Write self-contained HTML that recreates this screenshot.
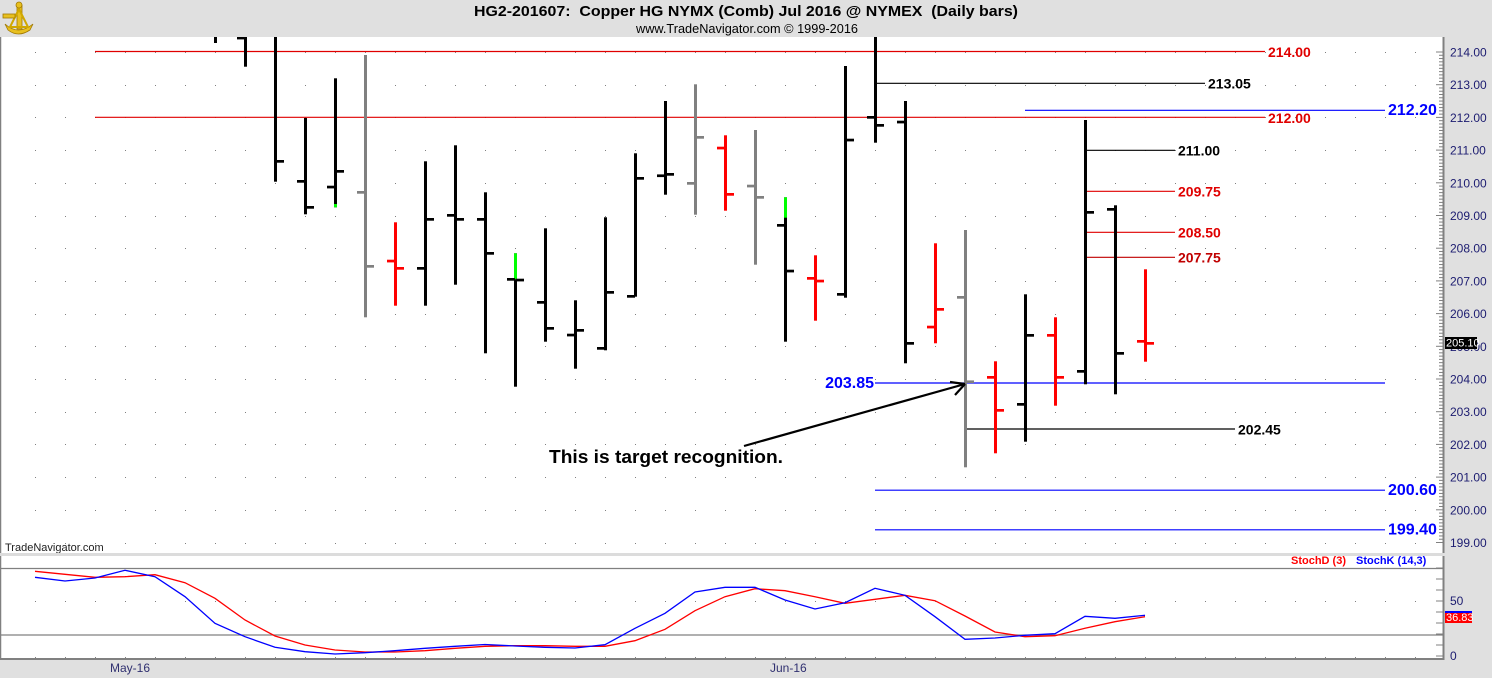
<!DOCTYPE html>
<html><head><meta charset="utf-8"><style>
html,body{margin:0;padding:0;background:#fff;}
svg{display:block;font-family:"Liberation Sans",Arial,sans-serif;}
</style></head><body>
<svg width="1492" height="678" viewBox="0 0 1492 678" xmlns="http://www.w3.org/2000/svg">
<!-- backgrounds -->
<rect x="0" y="0" width="1492" height="678" fill="#e0e0e0"/>
<rect x="0" y="37" width="1443" height="516" fill="#fff"/>
<rect x="0" y="556" width="1443" height="103" fill="#fff"/>
<line x1="0.5" y1="37" x2="0.5" y2="660" stroke="#808080" stroke-width="1.5"/>

<!-- dot grid main -->
<g id="dots" fill="#808080"></g>

<!-- horizontal level lines -->
<g stroke-width="1.2">
<line x1="95" y1="51.5" x2="1265" y2="51.5" stroke="#e00000"/>
<line x1="95" y1="117.3" x2="1265" y2="117.3" stroke="#e00000"/>
<line x1="877" y1="83.3" x2="1205" y2="83.3" stroke="#000"/>
<line x1="1025" y1="110.3" x2="1385" y2="110.3" stroke="#0000ff"/>
<line x1="1085" y1="150.3" x2="1175" y2="150.3" stroke="#000"/>
<line x1="1085" y1="191.3" x2="1175" y2="191.3" stroke="#e00000"/>
<line x1="1085" y1="232.3" x2="1175" y2="232.3" stroke="#e00000"/>
<line x1="1085" y1="257.3" x2="1175" y2="257.3" stroke="#c00000"/>
<line x1="875" y1="383" x2="1385" y2="383" stroke="#0000ff"/>
<line x1="965" y1="429" x2="1235" y2="429" stroke="#000"/>
<line x1="875" y1="490.2" x2="1385" y2="490.2" stroke="#0000ff"/>
<line x1="875" y1="529.8" x2="1385" y2="529.8" stroke="#0000ff"/>
</g>

<!-- bars -->
<g id="bars"></g>

<!-- level labels -->
<g font-weight="bold" font-size="14" dominant-baseline="central">
<text x="1268" y="52" fill="#e00000">214.00</text>
<text x="1268" y="118" fill="#e00000">212.00</text>
<text x="1208" y="83.5" fill="#000">213.05</text>
<text x="1178" y="150.5" fill="#000">211.00</text>
<text x="1178" y="191.5" fill="#e00000">209.75</text>
<text x="1178" y="232.5" fill="#e00000">208.50</text>
<text x="1178" y="257.5" fill="#c00000">207.75</text>
<text x="1238" y="429.5" fill="#000">202.45</text>
</g>
<g font-weight="bold" font-size="16" fill="#0000ff" dominant-baseline="central">
<text x="1388" y="110.5">212.20</text>
<text x="874" y="383.5" text-anchor="end">203.85</text>
<text x="1388" y="490.5">200.60</text>
<text x="1388" y="530">199.40</text>
</g>

<!-- annotation -->
<g stroke="#000" stroke-width="2.2" fill="none">
<line x1="744" y1="446" x2="965" y2="384"/>
<line x1="965" y1="384" x2="950" y2="382"/>
<line x1="965" y1="384" x2="955" y2="395"/>
</g>
<text x="549" y="463" font-weight="bold" font-size="18" fill="#000" textLength="234" lengthAdjust="spacingAndGlyphs">This is target recognition.</text>

<text x="5" y="551" font-size="11" fill="#202020">TradeNavigator.com</text>

<!-- pane gap -->
<rect x="0" y="553" width="1443" height="3" fill="#dcdcdc"/>

<!-- stoch pane -->
<line x1="0" y1="568.5" x2="1443" y2="568.5" stroke="#808080" stroke-width="1.3"/>
<line x1="0" y1="635" x2="1443" y2="635" stroke="#808080" stroke-width="1.3"/>
<line x1="0" y1="659" x2="1445" y2="659" stroke="#808080" stroke-width="2"/>
<g font-weight="bold" font-size="11" dominant-baseline="central">
<text x="1291" y="561" fill="#ff0000">StochD (3)</text>
<text x="1356" y="561" fill="#0000ff">StochK (14,3)</text>
</g>
<polyline fill="none" stroke="#ff0000" stroke-width="1.3" points="35,571.3 65,574.3 95,577.3 125,576.7 155,574.7 185,582.7 215,598.3 245,620 275,636 305,645 335,650 365,652 395,652 425,650.7 455,648.3 485,646.3 515,645.7 545,645.7 575,646.3 605,646.3 635,640.7 665,629.3 695,610.7 725,596.7 755,588.7 785,590.7 815,596.7 845,603.3 875,599.3 905,595.3 935,600.7 965,616 995,632 1025,636.7 1055,635.7 1085,628.3 1115,621.7 1145,616.7"/>
<polyline fill="none" stroke="#0000ff" stroke-width="1.3" points="35,577.3 65,581 95,578 125,570.3 155,576.7 185,596.7 215,623.3 245,636.7 275,647.3 305,651.7 335,654 365,652.7 395,650.7 425,648.3 455,646.3 485,644.5 515,646 545,647.3 575,648 605,644.7 635,628.3 665,613.3 695,592 725,587.3 755,587.3 785,600 815,609 845,602.7 875,588.3 905,595.3 935,616.7 965,639.3 995,638 1025,635.3 1055,633.7 1085,616.3 1115,618.3 1145,615.3"/>

<!-- header -->
<rect x="0" y="0" width="1492" height="37" fill="#e0e0e0"/>
<text x="474" y="16" font-weight="bold" font-size="15" fill="#000" xml:space="preserve" style="white-space:pre" textLength="544" lengthAdjust="spacingAndGlyphs">HG2-201607:  Copper HG NYMX (Comb) Jul 2016 @ NYMEX  (Daily bars)</text>
<text x="636" y="33" font-size="12.5" fill="#000" textLength="222" lengthAdjust="spacingAndGlyphs">www.TradeNavigator.com © 1999-2016</text>
<!-- logo -->
<g fill="#e8c020" stroke="#a07800" stroke-width="0.8">
<path d="M5 24 Q18 36 33 24 L30 30 Q18 38 8 30 Z"/>
<rect x="17" y="5" width="5" height="24"/>
<path d="M10 27 L19 9 L28 27 Z" fill="none" stroke="#d0a800" stroke-width="2"/>
<rect x="3" y="14" width="12" height="4"/>
<circle cx="19" cy="5" r="3"/>
</g>

<!-- right axis -->
<rect x="1444" y="37" width="48" height="641" fill="#e0e0e0"/>
<line x1="1443.5" y1="37" x2="1443.5" y2="553" stroke="#808080" stroke-width="2"/>
<line x1="1443.5" y1="556" x2="1443.5" y2="660" stroke="#808080" stroke-width="2"/>
<g id="ticks" stroke="#808080" stroke-width="1"></g>
<g id="axlabels" font-size="12" fill="#1c1c70" dominant-baseline="central"></g>
<g font-size="12" fill="#1c1c70" dominant-baseline="central">
<text x="1450" y="601">50</text>
<text x="1450" y="656">0</text>
</g>
<rect x="1445" y="337" width="32" height="12" fill="#000"/>
<text x="1446" y="343.5" font-size="11" fill="#fff" dominant-baseline="central">205.10</text>
<rect x="1445" y="612.5" width="27" height="10.5" fill="#ff0000"/>
<rect x="1445" y="611" width="27" height="2" fill="#0000ff"/>
<text x="1446" y="618" font-size="11" fill="#fff" dominant-baseline="central">36.83</text>

<!-- bottom axis labels -->
<g font-size="12" fill="#303070" dominant-baseline="central">
<text x="110" y="668">May-16</text>
<text x="770" y="668">Jun-16</text>
</g>

<script>
(function(){
var NS="http://www.w3.org/2000/svg";
function el(tag,attrs,parent){var e=document.createElementNS(NS,tag);for(var k in attrs)e.setAttribute(k,attrs[k]);parent.appendChild(e);return e;}
var dots=document.getElementById('dots');
for(var p=199;p<=214;p++){var y=52+(214-p)*32.7;for(var k=0;k<=46;k++){el('rect',{x:35+30*k,y:Math.round(y),width:1,height:1},dots);}}
[601,657].forEach(function(y){for(var k=0;k<=46;k++){el('rect',{x:35+30*k,y:y,width:1,height:1},dots);}});
var bars=document.getElementById('bars');
var B=[
[6,'#000',37,43,null,null],
[7,'#000',37,66.7,38,null],
[8,'#000',37,181.7,null,161.3],
[9,'#000',118,214.3,181.3,207.3],
[10,'#000',78.3,207.3,187,171.3,[204,207.3]],
[11,'#808080',55,317.3,192.3,266.3],
[12,'#ff0000',222.3,305.7,261,268.3],
[13,'#000',161.3,305.7,268.3,219.3],
[14,'#000',145.3,284.7,215.3,219.3],
[15,'#000',192.3,353.3,219.3,253.3],
[16,'#000',253.3,386.7,279.3,280,[253.3,279.3]],
[17,'#000',228.3,341.7,302.3,328.3],
[18,'#000',300.3,368.7,335,330.3],
[19,'#000',217.3,350.3,348.3,292.3],
[20,'#000',153.3,296.7,296.3,178.3],
[21,'#000',101,194.7,175.7,174.3],
[22,'#808080',84.3,214.7,183.3,137.3],
[23,'#ff0000',135.3,210.7,148,194.3],
[24,'#808080',130,264.7,186,197.3],
[25,'#000',197.3,341.7,225.3,271,[197.3,217.7]],
[26,'#ff0000',255.3,320.7,278.3,281],
[27,'#000',66,297.7,294.3,140],
[28,'#000',37,142.7,117.3,125.3],
[29,'#000',101,363.3,122,343.3],
[30,'#ff0000',243.3,343.3,327,309.3],
[31,'#808080',230,467.3,297.3,381.7],
[32,'#ff0000',361.3,453.3,377.3,410.3],
[33,'#000',294.3,441.7,404.3,335.3],
[34,'#ff0000',317.3,405.7,335.3,377.3],
[35,'#000',120,384.3,371.3,212.3],
[36,'#000',205.3,394.3,209.3,353.3],
[37,'#ff0000',269.3,361.7,341.3,343.3]
];
B.forEach(function(b){
 var cx=35+30*b[0]+0.5, c=b[1];
 el('rect',{x:cx-1.5,y:b[2],width:3,height:b[3]-b[2],fill:c},bars);
 if(b[6]) el('rect',{x:cx-1.5,y:b[6][0],width:3,height:b[6][1]-b[6][0],fill:'#00ff00'},bars);
 if(b[4]!=null) el('rect',{x:cx-8.5,y:b[4]-1.3,width:8,height:2.7,fill:c},bars);
 if(b[5]!=null) el('rect',{x:cx+0.5,y:b[5]-1.3,width:8,height:2.7,fill:c},bars);
});
var ticks=document.getElementById('ticks');
for(var i=0;i<=150;i++){var y=52+i*0.1*32.7;var major=(i%10==0);el('line',{x1:major?1436:1439,y1:y,x2:1443,y2:y},ticks);}
for(var v=0;v<=80;v+=10){var y=656-1.1*v;el('line',{x1:1436,y1:y,x2:1443,y2:y},ticks);}
var ax=document.getElementById('axlabels');
for(var p=199;p<=214;p++){var t=el('text',{x:1450,y:52.5+(214-p)*32.7},ax);t.textContent=p.toFixed(2);}
})();
</script>
</svg>
</body></html>
